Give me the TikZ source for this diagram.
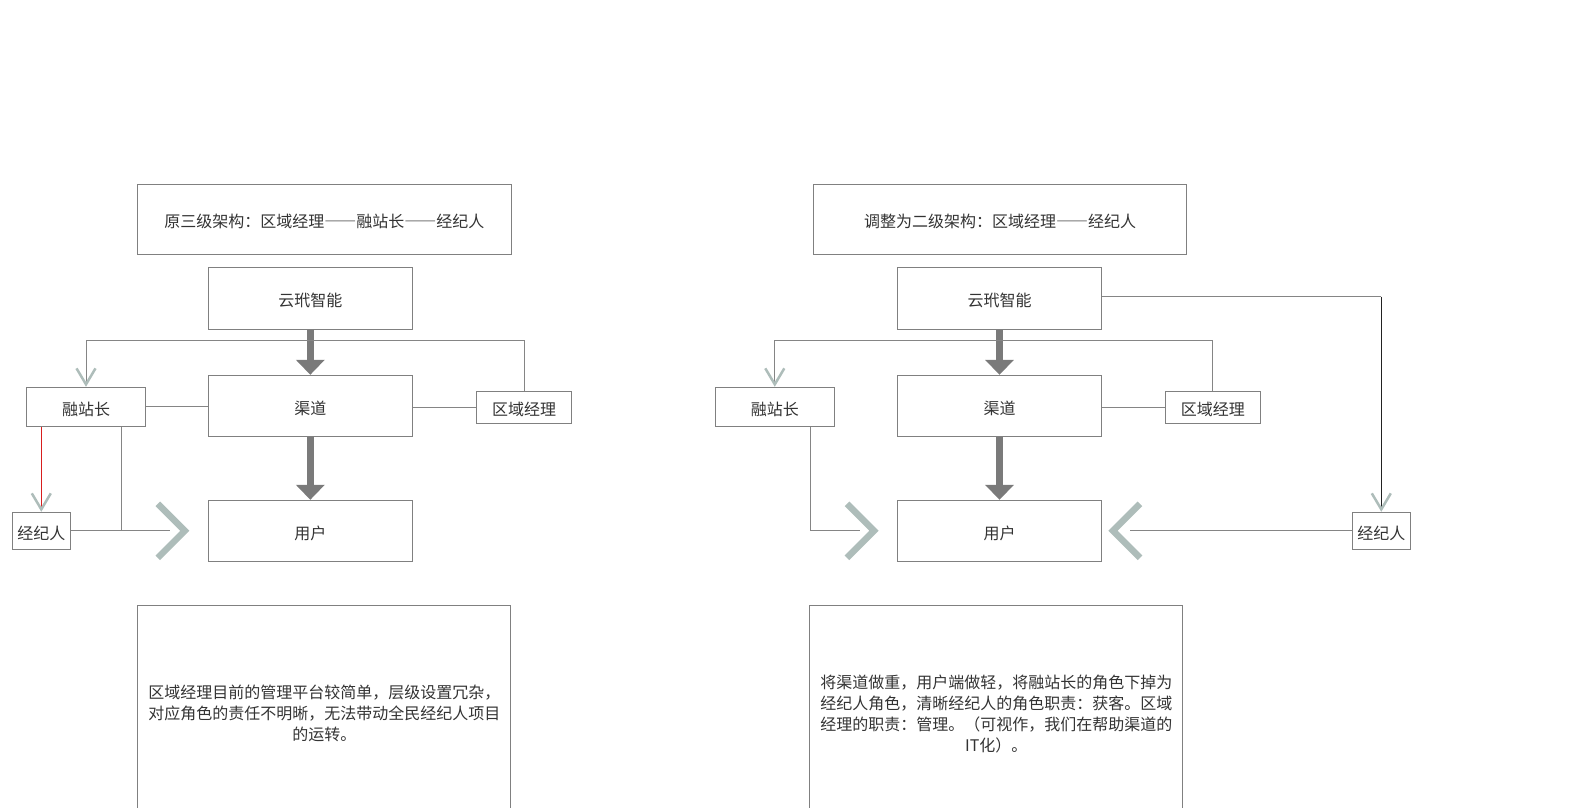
\documentclass[tikz,border=0pt]{standalone}
\usepackage{fontspec}
\setmainfont{Noto Sans CJK SC}
\usetikzlibrary{arrows.meta}

\definecolor{boxgray}{HTML}{808080}
\definecolor{linegray}{HTML}{858585}
\definecolor{fatgray}{HTML}{7A7A7A}
\definecolor{tealgray}{HTML}{AEBDBA}
\definecolor{textgray}{HTML}{333333}
\definecolor{darkline}{HTML}{222222}
\definecolor{redline}{HTML}{D81E1E}

\newcommand{\fwdash}{{\addfontfeatures{CharacterWidth=Full}——}}

\tikzset{
	box/.style={draw=boxgray, line width=1pt, inner sep=0pt, text=textgray, font=\fontsize{16}{21}\selectfont, align=center},
	lbl/.style={box, text height=17pt, text depth=0.4pt},
	conn/.style={draw=linegray, line width=1pt},
	vtip/.style={-{Straight Barb[color=tealgray, line width=2.5pt, width=19pt, length=16pt]}},
	fat/.style={draw=fatgray, line width=6.7pt, -{Triangle[width=28pt, length=15pt]}},
	chev/.style={draw=tealgray, line width=6.5pt, miter limit=10},
	chevright/.pic={\draw[chev] (-13,-27) -- (14,0) -- (-13,27);},
	chevleft/.pic={\draw[chev] (13,-27) -- (-14,0) -- (13,27);}
}

\begin{document}
\begin{tikzpicture}[x=1pt, y=-1pt]
		\useasboundingbox (0,0) rectangle (1593,808);
		\clip (0,0) rectangle (1593,808);

		% old structure
		\draw (324.3,219.3) node[lbl, minimum width=374pt, minimum height=70pt] (title1) {原三级架构：区域经理\fwdash 融站长\fwdash 经纪人};
		\draw (310.3,298.3) node[lbl, minimum width=204pt, minimum height=62pt] (yun1) {云玳智能};
		\draw (310.3,405.8) node[lbl, minimum width=204pt, minimum height=61pt] (qudao1) {渠道};
		\draw (310.3,530.8) node[lbl, minimum width=204pt, minimum height=61pt] (yonghu1) {用户};
		\draw (86,406.8) node[lbl, minimum width=119pt, minimum height=39pt] (zhan1) {融站长};
		\draw (524,407.3) node[lbl, minimum width=95pt, minimum height=32pt] (quyu1) {区域经理};
		\draw (41.3,530.8) node[lbl, minimum width=58pt, minimum height=37pt] (jjr1) {经纪人};
		\draw (324.3,713) node[box, minimum width=373pt, minimum height=216pt] (note1) {区域经理目前的管理平台较简单，层级设置冗杂，\\对应角色的责任不明晰，无法带动全民经纪人项目\\的运转。};

		\draw [fat] (yun1.south) -- (qudao1.north);
		\draw [fat] (qudao1.south) -- (yonghu1.north);
		\draw [conn, vtip] (quyu1.north) -- ++(0,-50) -| (zhan1.north);
		\draw [conn] (zhan1.east) -- (zhan1.east -| qudao1.west);
		\draw [conn] (quyu1.west) -- (quyu1.west -| qudao1.east);
		\draw [draw=redline, line width=1pt, vtip] (jjr1.north |- zhan1.south) -- (jjr1.north);
		\coordinate (jend1) at ([xshift=-38pt]yonghu1.west);
		\draw [conn] (jjr1.east) -- (jend1);
		\draw [conn] ([xshift=35.3pt]zhan1.south) |- (jend1);
		\pic at ([xshift=1pt]jend1) {chevright};

		% new structure
		\draw (1000,219.3) node[lbl, minimum width=373pt, minimum height=70pt] (title2) {调整为二级架构：区域经理\fwdash 经纪人};
		\draw (999.5,298.3) node[lbl, minimum width=204pt, minimum height=62pt] (yun2) {云玳智能};
		\draw (999.5,405.8) node[lbl, minimum width=204pt, minimum height=61pt] (qudao2) {渠道};
		\draw (999.5,530.8) node[lbl, minimum width=204pt, minimum height=61pt] (yonghu2) {用户};
		\draw (774.8,406.8) node[lbl, minimum width=119pt, minimum height=39pt] (zhan2) {融站长};
		\draw (1212.8,407.3) node[lbl, minimum width=95pt, minimum height=32pt] (quyu2) {区域经理};
		\draw (1381.3,530.8) node[lbl, minimum width=58pt, minimum height=37pt] (jjr2) {经纪人};
		\draw (996.3,714.5) node[box, minimum width=373pt, minimum height=219pt] (note2) {将渠道做重，用户端做轻，将融站长的角色下掉为\\经纪人角色，清晰经纪人的角色职责：获客。区域\\经理的职责：管理。（可视作，我们在帮助渠道的\\IT化）。};

		\draw [fat] (yun2.south) -- (qudao2.north);
		\draw [fat] (qudao2.south) -- (yonghu2.north);
		\draw [conn, vtip] (quyu2.north) -- ++(0,-50) -| (zhan2.north);
		\draw [conn] (quyu2.west) -- (quyu2.west -| qudao2.east);
		\coordinate (turn2) at ([yshift=1.6pt]yun2.east -| jjr2.north);
		\draw [conn] ([yshift=1.6pt]yun2.east) -- (turn2);
		\draw [draw=darkline, line width=1.6pt, vtip] (turn2) -- (jjr2.north);
		\coordinate (zend2) at ([xshift=-37pt]yonghu2.west);
		\draw [conn] ([xshift=35.5pt]zhan2.south) |- (zend2);
		\pic at (zend2) {chevright};
		\coordinate (jend2) at ([xshift=28pt]yonghu2.east);
		\draw [conn] (jjr2.west) -- (jend2);
		\pic at ([xshift=-3pt]jend2) {chevleft};
	\end{tikzpicture}
\end{document}
